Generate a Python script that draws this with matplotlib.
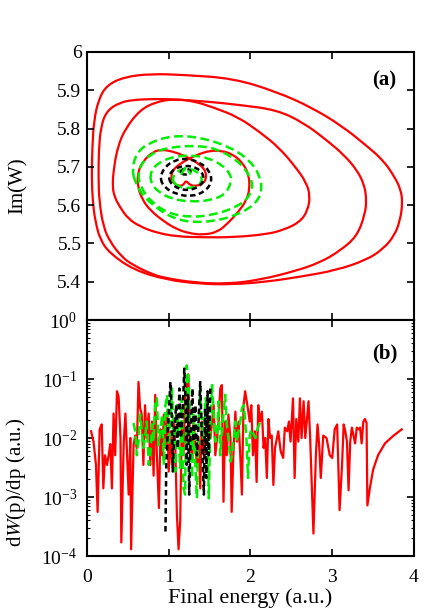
import numpy as np
import matplotlib
matplotlib.use('Agg')
import matplotlib.pyplot as plt
from matplotlib.path import Path
from matplotlib.patches import PathPatch
from matplotlib.ticker import FixedLocator, LogLocator, NullFormatter

plt.rcParams['font.family'] = ['Liberation Serif', 'DejaVu Serif']
plt.rcParams['mathtext.fontset'] = 'stix'

# ---- panel (a): Im(W) loops ----
red_loop1_x = [0.057, 0.065, 0.085, 0.14, 0.24, 0.46, 0.79, 1.20, 1.79, 2.32, 2.75, 3.13, 3.42, 3.62,
               3.76, 3.84, 3.86, 3.83, 3.76, 3.62, 3.42, 3.05, 2.61, 2.20, 1.79, 1.40, 0.97, 0.57,
               0.28, 0.16, 0.10, 0.07, 0.057]
red_loop1_y = [5.674, 5.750, 5.820, 5.875, 5.913, 5.935, 5.943, 5.940, 5.931, 5.896, 5.855, 5.805, 5.755, 5.718,
               5.675, 5.640, 5.605, 5.560, 5.520, 5.485, 5.457, 5.430, 5.413, 5.400, 5.393, 5.394, 5.405, 5.431,
               5.474, 5.510, 5.560, 5.610, 5.674]

red_loop2_x = [0.14, 0.145, 0.17, 0.24, 0.40, 0.57, 0.79, 1.02, 1.50, 1.85, 2.32, 2.65, 2.93, 3.15, 3.30,
               3.39, 3.42, 3.40, 3.30, 3.09, 2.85, 2.55, 2.12, 1.71, 1.30, 0.95, 0.79, 0.55, 0.42, 0.28,
               0.20, 0.15, 0.14]
red_loop2_y = [5.674, 5.745, 5.805, 5.846, 5.868, 5.875, 5.877, 5.877, 5.870, 5.862, 5.849, 5.815, 5.770, 5.730, 5.692,
               5.655, 5.615, 5.575, 5.518, 5.480, 5.450, 5.428, 5.405, 5.394, 5.398, 5.410, 5.420, 5.445, 5.466, 5.505,
               5.544, 5.610, 5.674]

red_loop3_x = [0.31, 0.33, 0.38, 0.47, 0.65, 0.85, 1.06, 1.30, 1.55, 1.85, 2.12, 2.35, 2.55, 2.68, 2.73,
               2.70, 2.60, 2.40, 2.20, 1.79, 1.40, 1.10, 0.85, 0.65, 0.50, 0.40, 0.34, 0.31]
red_loop3_y = [5.648, 5.700, 5.755, 5.800, 5.849, 5.870, 5.877, 5.872, 5.855, 5.830, 5.790, 5.750, 5.700, 5.660, 5.625,
               5.585, 5.555, 5.535, 5.524, 5.516, 5.516, 5.518, 5.528, 5.544, 5.565, 5.596, 5.620, 5.648]

red_inner_x = [1.21, 1.26, 1.34, 1.42, 1.46, 1.45, 1.41, 1.35, 1.27, 1.18, 1.05, 0.92, 0.81, 0.68, 0.62, 0.62,
               0.68, 0.78, 0.95, 1.10, 1.24, 1.42, 1.60, 1.72, 1.85, 1.95, 1.99, 1.98, 1.90, 1.78, 1.65,
               1.50, 1.38, 1.27, 1.17, 1.09, 1.04, 1.03, 1.06, 1.12, 1.18, 1.21]
red_inner_y = [5.665, 5.652, 5.650, 5.656, 5.670, 5.688, 5.700, 5.710, 5.720, 5.730, 5.740, 5.745, 5.740, 5.714, 5.684, 5.648,
               5.613, 5.585, 5.556, 5.537, 5.527, 5.522, 5.530, 5.552, 5.582, 5.612, 5.642, 5.680, 5.712, 5.733, 5.742,
               5.742, 5.734, 5.724, 5.712, 5.700, 5.687, 5.671, 5.657, 5.650, 5.652, 5.665]

green_loop1_x = [0.55, 0.60, 0.75, 1.04, 1.40, 1.77, 2.00, 2.12, 2.14, 2.05, 1.81, 1.55, 1.28, 1.05, 0.87, 0.70, 0.60, 0.55]
green_loop1_y = [5.690, 5.735, 5.762, 5.782, 5.777, 5.750, 5.715, 5.675, 5.635, 5.600, 5.572, 5.558, 5.555, 5.566, 5.590, 5.620, 5.655, 5.690]
green_loop2_x = [0.62, 0.68, 0.85, 1.08, 1.35, 1.58, 1.85, 2.00, 2.03, 1.95, 1.77, 1.55, 1.28, 1.00, 0.79, 0.66, 0.62]
green_loop2_y = [5.679, 5.715, 5.742, 5.753, 5.755, 5.748, 5.716, 5.675, 5.644, 5.612, 5.590, 5.575, 5.568, 5.578, 5.607, 5.645, 5.679]
green_loop3_x = [0.77, 0.82, 0.91, 1.05, 1.28, 1.50, 1.65, 1.75, 1.77, 1.69, 1.50, 1.28, 1.05, 0.87, 0.79, 0.77]
green_loop3_y = [5.679, 5.700, 5.714, 5.726, 5.731, 5.722, 5.705, 5.683, 5.661, 5.627, 5.612, 5.609, 5.615, 5.635, 5.655, 5.679]
green_loop4_x = [1.04, 1.08, 1.20, 1.34, 1.42, 1.36, 1.22, 1.10, 1.04]
green_loop4_y = [5.665, 5.685, 5.697, 5.690, 5.668, 5.650, 5.643, 5.650, 5.665]
green_tip_x = [1.15, 1.21, 1.27]
green_tip_y = [5.680, 5.700, 5.680]

black_loop1_x = [0.89, 0.95, 1.08, 1.22, 1.38, 1.50, 1.53, 1.45, 1.28, 1.10, 0.95, 0.89]
black_loop1_y = [5.670, 5.700, 5.718, 5.722, 5.712, 5.690, 5.662, 5.636, 5.622, 5.628, 5.645, 5.670]
black_loop2_x = [0.99, 1.05, 1.22, 1.38, 1.44, 1.38, 1.22, 1.06, 0.99]
black_loop2_y = [5.670, 5.694, 5.705, 5.694, 5.670, 5.648, 5.637, 5.648, 5.670]
black_loop3_x = [1.14, 1.20, 1.28, 1.24, 1.16, 1.14]
black_loop3_y = [5.688, 5.697, 5.690, 5.680, 5.680, 5.688]

# ---- panel (b): spectra ----
red_x = [0.05, 0.08, 0.11, 0.13, 0.155, 0.18, 0.20, 0.22, 0.245, 0.265, 0.285, 0.305, 0.325, 0.345, 0.367,
         0.387, 0.41, 0.42, 0.45, 0.47, 0.49, 0.51, 0.53, 0.54, 0.57, 0.59, 0.61, 0.63, 0.65, 0.67,
         0.69, 0.71, 0.73, 0.755, 0.775, 0.795, 0.815, 0.835, 0.855, 0.88, 0.90, 0.92, 0.94, 0.96, 0.98,
         1.00, 1.02, 1.04, 1.06, 1.08, 1.10, 1.12, 1.14, 1.16, 1.18, 1.20, 1.24, 1.26, 1.285, 1.305,
         1.345, 1.365, 1.385, 1.405, 1.43, 1.47, 1.51, 1.55, 1.57, 1.59, 1.61, 1.63, 1.65, 1.67, 1.69,
         1.71, 1.73, 1.755, 1.77, 1.79, 1.815, 1.835, 1.855, 1.875, 1.895, 1.915, 1.935, 1.974, 1.99, 2.01,
         2.03, 2.055, 2.075, 2.095, 2.115, 2.14, 2.16, 2.18, 2.20, 2.22, 2.24, 2.26, 2.28, 2.30, 2.34,
         2.37, 2.40, 2.42, 2.45, 2.47, 2.49, 2.52, 2.54, 2.56, 2.585, 2.605, 2.625, 2.65, 2.67, 2.69,
         2.71, 2.73, 2.77, 2.80, 2.82, 2.84, 2.86, 2.89, 2.93, 2.97, 3.00, 3.03, 3.06, 3.09, 3.12,
         3.14, 3.16, 3.18, 3.20, 3.22, 3.24, 3.26, 3.28, 3.30, 3.32, 3.34, 3.36, 3.38, 3.40, 3.42,
         3.43, 3.46, 3.50, 3.56, 3.645, 3.75, 3.85]
red_y = [1.3e-2, 8.7e-3, 3.5e-3, 5.6e-4, 1.4e-2, 1.7e-2, 1.4e-3, 5.1e-3, 3.5e-3, 5.1e-3, 7.9e-3, 1.4e-3, 2.6e-2, 5.1e-3, 6.2e-2,
         5.0e-2, 1.0e-2, 1.7e-4, 8.7e-3, 2.6e-2, 5.1e-3, 1.1e-3, 1.0e-2, 1.3e-4, 7.6e-3, 1.1e-2, 6.8e-3, 8.9e-2, 3.2e-2, 2.5e-2,
         3.5e-3, 3.6e-2, 1.0e-2, 2.6e-2, 3.5e-3, 1.9e-2, 2.3e-3, 5.4e-2, 5.1e-3, 6.5e-4, 1.4e-2, 5.1e-3, 2.5e-2, 6.8e-3, 2.8e-2,
         2.7e-3, 1.3e-2, 3.5e-3, 1.9e-2, 7.6e-3, 5.0e-4, 1.3e-4, 3.8e-4, 1.9e-2, 5.1e-3, 4.7e-2, 1.2e-1, 1.0e-2, 4.0e-3, 1.9e-2,
         3.5e-3, 1.0e-2, 1.4e-3, 1.9e-2, 5.1e-3, 2.5e-2, 1.0e-2, 3.6e-2, 5.1e-3, 1.0e-2, 1.9e-2, 6.9e-2, 7.9e-2, 8.3e-4, 1.9e-2,
         5.1e-3, 2.5e-2, 1.0e-2, 5.6e-4, 5.1e-3, 2.8e-2, 8.7e-3, 1.9e-2, 5.1e-3, 1.1e-3, 3.6e-2, 6.2e-2, 2.8e-2, 1.9e-2, 3.6e-2,
         5.1e-3, 1.3e-2, 1.8e-3, 3.6e-2, 1.9e-2, 2.8e-2, 6.8e-3, 1.0e-2, 2.1e-3, 2.1e-2, 1.0e-2, 1.1e-2, 1.6e-3, 6.8e-3, 1.3e-2,
         5.9e-3, 4.6e-3, 1.5e-2, 1.3e-2, 1.9e-2, 8.7e-3, 4.7e-2, 2.1e-3, 2.1e-2, 8.7e-3, 4.7e-2, 1.0e-2, 4.2e-2, 1.0e-2, 2.1e-2,
         4.2e-2, 1.0e-2, 2.4e-4, 5.1e-3, 1.7e-2, 7.6e-3, 2.1e-3, 1.1e-2, 1.0e-2, 5.1e-3, 4.6e-3, 1.4e-2, 1.7e-2, 6.0e-4, 3.5e-3,
         1.7e-2, 1.3e-2, 8.7e-3, 1.3e-3, 8.7e-3, 1.5e-2, 1.1e-2, 8.1e-3, 1.5e-2, 1.4e-2, 1.5e-2, 8.1e-3, 1.9e-2, 2.1e-2, 1.8e-2,
         7.2e-4, 1.4e-3, 2.9e-3, 5.1e-3, 8.1e-3, 1.1e-2, 1.4e-2]

green_x = [0.57, 0.59, 0.61, 0.63, 0.65, 0.67, 0.69, 0.71, 0.73, 0.755, 0.775, 0.795, 0.815, 0.835, 0.855,
           0.875, 0.90, 0.92, 0.94, 0.96, 0.98, 1.00, 1.02, 1.04, 1.06, 1.08, 1.10, 1.12, 1.14, 1.16,
           1.18, 1.20, 1.22, 1.245, 1.265, 1.285, 1.305, 1.325, 1.345, 1.365, 1.385, 1.405, 1.425, 1.45, 1.47,
           1.49, 1.51, 1.53, 1.55, 1.57, 1.59, 1.61, 1.63, 1.65, 1.67, 1.69, 1.71, 1.73, 1.755, 1.775,
           1.795, 1.815, 1.835, 1.855, 1.875, 1.895, 1.92, 1.95, 1.97, 1.99, 2.01, 2.06, 2.085, 2.12]
green_y = [1.8e-2, 1.3e-2, 5.1e-3, 8.7e-3, 2.5e-2, 1.4e-2, 6.8e-3, 1.0e-2, 1.9e-2, 3.5e-3, 5.1e-3, 1.7e-2, 8.7e-3, 4.2e-2, 4.7e-2,
           7.6e-3, 1.4e-2, 2.5e-2, 3.5e-3, 3.6e-2, 5.4e-2, 7.6e-3, 1.7e-2, 6.9e-2, 1.0e-2, 2.7e-3, 3.6e-2, 1.1e-2, 3.1e-3, 4.7e-2,
           1.4e-3, 1.1e-3, 1.7e-1, 8.9e-2, 1.0e-2, 2.1e-3, 2.5e-2, 3.5e-3, 9.5e-4, 1.9e-2, 6.9e-2, 1.9e-2, 1.0e-2, 4.7e-2, 3.2e-2,
           9.5e-4, 1.9e-2, 7.9e-2, 2.5e-2, 8.7e-3, 1.1e-2, 4.2e-2, 5.1e-3, 1.3e-2, 2.5e-2, 5.4e-2, 1.7e-2, 1.0e-2, 4.0e-3, 5.1e-3,
           1.0e-2, 1.9e-2, 8.7e-3, 1.3e-2, 1.9e-2, 3.2e-2, 3.6e-2, 1.0e-2, 2.1e-3, 1.1e-2, 1.4e-2, 1.0e-2, 1.4e-2, 1.9e-2]

black_x = [0.96, 0.97, 1.00, 1.02, 1.04, 1.05, 1.07, 1.09, 1.11, 1.13, 1.15, 1.17, 1.19, 1.21, 1.22,
           1.235, 1.25, 1.27, 1.29, 1.305, 1.325, 1.345, 1.365, 1.385, 1.405, 1.43, 1.445, 1.46, 1.475, 1.49, 1.51]
black_y = [2.6e-4, 3.5e-3, 2.5e-2, 8.9e-2, 1.9e-2, 2.7e-3, 1.3e-2, 3.6e-2, 6.8e-3, 6.9e-2, 1.0e-2, 2.5e-2, 1.5e-1, 3.2e-2, 3.5e-3,
           5.4e-2, 1.1e-3, 1.4e-2, 6.9e-2, 8.7e-3, 3.6e-2, 5.1e-3, 1.9e-2, 8.9e-2, 1.0e-2, 1.1e-3, 3.2e-2, 2.1e-3, 6.2e-2, 5.1e-3, 7.9e-2]

x_ticks = [0, 1, 2, 3, 4]
imw_ticks = [5.4, 5.5, 5.6, 5.7, 5.8, 5.9, 6.0]
imw_labels = ['5.4', '5.5', '5.6', '5.7', '5.8', '5.9', '6']

RED = '#ff0000'
GREEN = '#00ee00'
BLACK = '#000000'
GREEN_DASH = (0, (3.5, 1.8))
BLACK_DASH = (0, (2.2, 1.4))


def loop_path(xs, ys):
    # closed smooth curve, typed points used as quadratic control points
    pts = np.column_stack([xs, ys])[:-1]
    mids = (pts + np.roll(pts, -1, axis=0)) / 2
    verts = [mids[-1]]
    codes = [Path.MOVETO]
    for p, m in zip(pts, mids):
        verts += [p, m]
        codes += [Path.CURVE3, Path.CURVE3]
    return Path(verts, codes)


def draw_loop(ax, xs, ys, color, lw, ls='-'):
    ax.add_patch(PathPatch(loop_path(xs, ys), fill=False, edgecolor=color,
                           lw=lw, linestyle=ls, joinstyle='round'))


fig = plt.figure(figsize=(4.36, 6.10), dpi=100)
ax1 = fig.add_axes([0.1995, 0.4754, 0.75, 0.4394])
ax2 = fig.add_axes([0.1995, 0.0885, 0.75, 0.3869])

#top panel
for xs, ys in [(red_loop1_x, red_loop1_y), (red_loop2_x, red_loop2_y),
               (red_loop3_x, red_loop3_y), (red_inner_x, red_inner_y)]:
    draw_loop(ax1, xs, ys, RED, 1.6)
for xs, ys in [(green_loop1_x, green_loop1_y), (green_loop2_x, green_loop2_y),
               (green_loop3_x, green_loop3_y), (green_loop4_x, green_loop4_y)]:
    draw_loop(ax1, xs, ys, GREEN, 1.8, GREEN_DASH)
ax1.plot(green_tip_x, green_tip_y, color=GREEN, lw=1.8, linestyle=GREEN_DASH)
for xs, ys in [(black_loop1_x, black_loop1_y), (black_loop2_x, black_loop2_y), (black_loop3_x, black_loop3_y)]:
    draw_loop(ax1, xs, ys, BLACK, 1.8, BLACK_DASH)

ax1.set_xlim(0, 4)
ax1.set_ylim(5.3, 6.0)
ax1.xaxis.set_major_locator(FixedLocator(x_ticks))
ax1.set_xticklabels([])
ax1.yaxis.set_major_locator(FixedLocator(imw_ticks))
ax1.set_yticklabels(imw_labels)
ax1.set_ylabel('Im(W)', fontsize=15)
ax1.yaxis.set_label_coords(-0.18, 0.5)
ax1.text(0.91, 0.895, '(a)', transform=ax1.transAxes, fontsize=15, fontweight='bold',
         ha='center', va='center')

#bottom panel
ax2.plot(red_x, red_y, color=RED, lw=1.6)
ax2.plot(green_x, green_y, color=GREEN, lw=1.8, linestyle=GREEN_DASH)
ax2.plot(black_x, black_y, color=BLACK, lw=1.8, linestyle=BLACK_DASH)
ax2.set_yscale('log')
ax2.set_xlim(0, 4)
ax2.set_ylim(1e-4, 1e0)
ax2.xaxis.set_major_locator(FixedLocator(x_ticks))
ax2.yaxis.set_major_locator(LogLocator(base=10, numticks=10))
ax2.yaxis.set_minor_locator(LogLocator(base=10, subs=np.arange(2, 10), numticks=20))
ax2.yaxis.set_minor_formatter(NullFormatter())
ax2.set_xlabel('Final energy (a.u.)', fontsize=16)
ax2.xaxis.set_label_coords(0.5, -0.135)
ax2.set_ylabel(r'd$\mathit{W}$(p)/dp (a.u.)', fontsize=15)
ax2.yaxis.set_label_coords(-0.18, 0.31)
ax2.text(0.91, 0.86, '(b)', transform=ax2.transAxes, fontsize=15, fontweight='bold',
         ha='center', va='center')

for ax in (ax1, ax2):
    for s in ax.spines.values():
        s.set_linewidth(1.5)
    ax.tick_params(which='major', direction='in', length=5, width=1.2,
                   top=True, right=True, labelsize=14)
    ax.tick_params(which='minor', direction='in', length=2.5, width=0.8,
                   top=True, right=True)
ax1.tick_params(axis='y', pad=4)
ax2.tick_params(axis='y', pad=7)
ax2.tick_params(axis='x', pad=9)

fig.savefig('out.png', dpi=100)
